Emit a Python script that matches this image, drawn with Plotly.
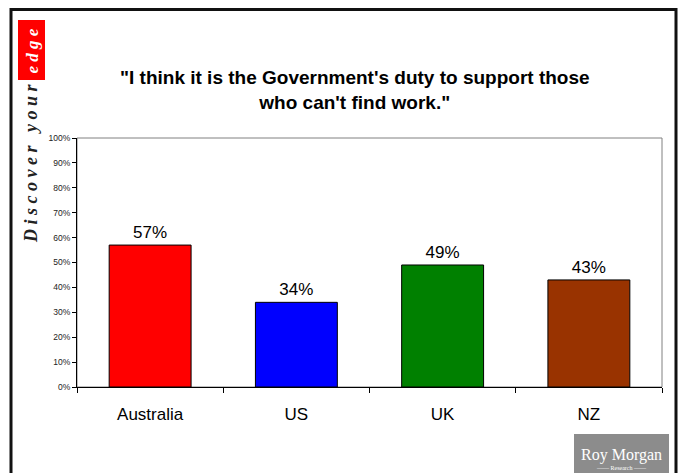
import plotly.graph_objects as go

countries = ["Australia", "US", "UK", "NZ"]
support_pct = [57, 34, 49, 43]
bar_colors = ["#FF0000", "#0000FF", "#008000", "#993300"]
y_ticks = list(range(0, 101, 10))

W, H = 679, 473
L, R, T, B = 77, 17, 138, 86
pw, ph = W - L - R, H - T - B


def px_x(x):
    return (x - L) / pw


def px_y(y):
    return (H - B - y) / ph


fig = go.Figure(
    go.Bar(
        x=countries,
        y=support_pct,
        marker=dict(color=bar_colors, line=dict(color="black", width=1)),
        width=0.56,
        text=[f"{v}%" for v in support_pct],
        textposition="outside",
        textfont=dict(family="Arial, Liberation Sans", size=17, color="black"),
        cliponaxis=False,
    )
)

shapes = [
    # outer frame
    dict(type="rect", xref="paper", yref="paper",
         x0=px_x(11), x1=px_x(676), y0=px_y(480), y1=px_y(9.5),
         line=dict(color="#111", width=3), fillcolor="rgba(0,0,0,0)", layer="below"),
    # plot area border (top and right)
    dict(type="rect", xref="paper", yref="paper", x0=0, x1=1, y0=0, y1=1,
         line=dict(color="#808080", width=1), fillcolor="rgba(0,0,0,0)", layer="below"),
    # red tab
    dict(type="rect", xref="paper", yref="paper",
         x0=px_x(18), x1=px_x(45), y0=px_y(80), y1=px_y(20),
         line=dict(width=0), fillcolor="#FF0000", layer="below"),
    # logo box
    dict(type="rect", xref="paper", yref="paper",
         x0=px_x(574), x1=px_x(669), y0=px_y(476), y1=px_y(434),
         line=dict(width=0), fillcolor="#8C8C8C", layer="below"),
]

serif = "Times New Roman, Liberation Serif, serif"


def note(text, x, y, size, color, family, angle=0):
    return dict(text=text, x=px_x(x), y=px_y(y), xref="paper", yref="paper",
                xanchor="center", yanchor="middle", showarrow=False, textangle=angle,
                font=dict(family=family, size=size, color=color))


annotations = [
    note("<b><i>e d g e</i></b>", 31.5, 51, 17, "white", serif, -90),
    note("<b><i>D i s c o v e r   y o u r</i></b>", 31, 164, 18, "#222", serif, -90),
    note("<b>\"I think it is the Government's duty to support those<br>who can't find work.\"</b>",
         355, 90, 19, "black", "Arial, Liberation Sans"),
    note("Roy Morgan", 621.5, 455, 16, "white", serif),
    note("—— Research ——", 621.5, 468, 6, "white", serif),
]

fig.update_layout(
    width=W, height=H,
    margin=dict(l=L, r=R, t=T, b=B),
    paper_bgcolor="white", plot_bgcolor="white",
    showlegend=False,
    shapes=shapes,
    annotations=annotations,
    xaxis=dict(
        showline=True, linecolor="black", linewidth=1,
        ticks="outside", tickson="boundaries", ticklen=5, tickcolor="black",
        ticklabelstandoff=12,
        tickfont=dict(family="Arial, Liberation Sans", size=17, color="black"),
        showgrid=False, fixedrange=True,
    ),
    yaxis=dict(
        range=[0, 100], tickvals=y_ticks, ticktext=[f"{v}%" for v in y_ticks],
        showline=True, linecolor="black", linewidth=1,
        ticks="outside", ticklen=4, tickcolor="black",
        tickfont=dict(family="Arial, Liberation Sans", size=8.5, color="#222"),
        showgrid=False, zeroline=False, fixedrange=True,
    ),
)

fig.write_html("out.html")
